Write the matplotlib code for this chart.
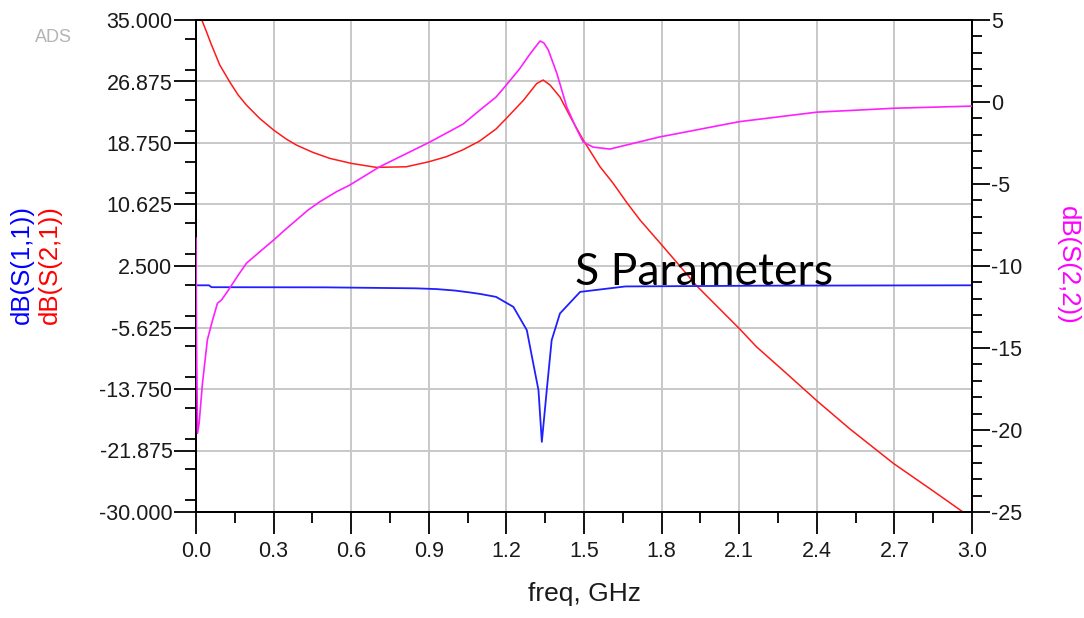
import numpy as np
import matplotlib.pyplot as plt
from matplotlib.ticker import MultipleLocator

# S-parameter traces
# dB(S(2,1)) - left axis
freq_s21 = [0.02, 0.0405, 0.06, 0.092, 0.13, 0.163, 0.195, 0.246, 0.30, 0.349, 0.388,
            0.452, 0.517, 0.60, 0.697, 0.813, 0.90, 0.967, 1.03, 1.096, 1.16, 1.197,
            1.266, 1.317, 1.342, 1.369, 1.407, 1.454, 1.497, 1.562, 1.613, 1.665,
            1.716, 1.80, 1.858, 1.935, 2.10, 2.167, 2.283, 2.40, 2.527, 2.697,
            2.849, 2.965]
s21_db = [35.2, 33.45, 31.7, 29.05, 26.84, 25.09, 23.76, 22.0, 20.46, 19.27, 18.48,
          17.51, 16.72, 16.06, 15.53, 15.61, 16.27, 16.93, 17.82, 19.0, 20.6, 21.9,
          24.4, 26.6, 27.07, 26.4, 24.82, 21.78, 19.14, 15.61, 13.41, 10.9,
          8.6, 5.3, 3.0, -0.1, -5.75, -8.18, -11.7, -15.3, -19.0, -23.6,
          -27.2, -30.0]

# dB(S(1,1)) - left axis
freq_s11 = [0.0, 0.05, 0.06, 0.5, 0.85, 0.93, 1.0, 1.06, 1.10, 1.16, 1.227, 1.279,
            1.304, 1.324, 1.337, 1.356, 1.375, 1.407, 1.485, 1.66, 2.2, 3.0]
s11_db = [-0.05, -0.05, -0.3, -0.32, -0.45, -0.55, -0.74, -1.0, -1.2, -1.58, -2.9,
          -5.98, -10.4, -13.9, -20.74, -13.9, -7.3, -3.77, -0.92, -0.2, -0.1, -0.05]

# dB(S(2,2)) - right axis
freq_s22 = [0.0, 0.002, 0.006, 0.012, 0.025, 0.044, 0.064, 0.083, 0.098, 0.118,
            0.163, 0.195, 0.246, 0.30, 0.343, 0.388, 0.433, 0.478, 0.542, 0.594,
            0.71, 0.80, 0.903, 1.032, 1.097, 1.16, 1.195, 1.25, 1.29, 1.33, 1.345,
            1.362, 1.395, 1.433, 1.47, 1.497, 1.535, 1.60, 1.79, 2.10, 2.4, 2.7, 3.0]
s22_db = [-8.3, -14.8, -20.2, -19.6, -17.15, -14.5, -13.3, -12.27, -12.08, -11.64,
          -10.56, -9.83, -9.14, -8.42, -7.81, -7.2, -6.59, -6.09, -5.48, -5.07,
          -3.95, -3.25, -2.45, -1.35, -0.5, 0.3, 0.95, 2.0, 2.9, 3.72, 3.6,
          3.17, 1.75, -0.29, -1.6, -2.44, -2.75, -2.87, -2.14, -1.2, -0.62, -0.38, -0.25]

x_ticks = [0.0, 0.3, 0.6, 0.9, 1.2, 1.5, 1.8, 2.1, 2.4, 2.7, 3.0]
left_ticks = [35.0, 26.875, 18.75, 10.625, 2.5, -5.625, -13.75, -21.875, -30.0]
right_ticks = [5, 0, -5, -10, -15, -20, -25]

plt.rcParams['font.family'] = ['Liberation Sans', 'DejaVu Sans']
txt = '#1a1a1a'

fig = plt.figure(figsize=(10.84, 6.18), dpi=100)
ax = fig.add_axes([196 / 1084, 1 - 512 / 618, 776 / 1084, 492 / 618])
ax2 = ax.twinx()

ax.plot(freq_s21, s21_db, color='#ff1a1a', lw=1.1)
ax.plot(freq_s11, s11_db, color='#2020ff', lw=1.3)
ax2.plot(freq_s22, s22_db, color='#ff20ff', lw=1.2, zorder=3)

ax.set_xlim(0, 3.0)
ax.set_ylim(-30, 35)
ax2.set_ylim(-25, 5)

ax.set_xticks(x_ticks)
ax.set_xticklabels(['%.1f' % v for v in x_ticks])
ax.xaxis.set_minor_locator(MultipleLocator(0.15))
ax.set_yticks(left_ticks)
ax.set_yticklabels(['%.3f' % v for v in left_ticks])
ax.yaxis.set_minor_locator(MultipleLocator(4.0625))
ax2.set_yticks(right_ticks)
ax2.set_yticklabels([str(v) for v in right_ticks])
ax2.yaxis.set_minor_locator(MultipleLocator(1))

ax.grid(True, which='major', color='#c8c8c8', lw=1.4)
ax.set_axisbelow(True)

for a in (ax, ax2):
    for s in a.spines.values():
        s.set_color('black')
        s.set_linewidth(1.3)

ax.tick_params(axis='both', which='major', length=16, width=1.3, labelsize=15.5,
               labelcolor=txt, pad=1)
ax.tick_params(axis='x', which='major', pad=5)
ax.tick_params(axis='both', which='minor', length=8, width=1.3)
ax2.tick_params(axis='y', which='major', length=13, width=1.3, labelsize=15.5,
                labelcolor=txt, pad=1)
ax2.tick_params(axis='y', which='minor', length=7, width=1.3)

ax.set_xlabel('freq, GHz', fontsize=19, color=txt, labelpad=14)

# stacked left axis labels
fig.text(22 / 1084, 1 - 265 / 618, 'dB(S(1,1))', rotation=90, color='#0000ff',
         fontsize=18.5, ha='center', va='center')
fig.text(50 / 1084, 1 - 265 / 618, 'dB(S(2,1))', rotation=90, color='#ff0000',
         fontsize=18.5, ha='center', va='center')
fig.text(1068 / 1084, 1 - 265 / 618, 'dB(S(2,2))', rotation=-90, color='#ff00ff',
         fontsize=18.5, ha='center', va='center')

fig.text(35 / 1084, 1 - 38 / 618, 'ADS', color='#b4b4b4', fontsize=13,
         ha='left', va='center')
fig.text(575 / 1084, 1 - 285 / 618, 'S Parameters', color='black', fontsize=32,
         family='Lato', ha='left', va='baseline')

fig.savefig('out.png', dpi=100)
